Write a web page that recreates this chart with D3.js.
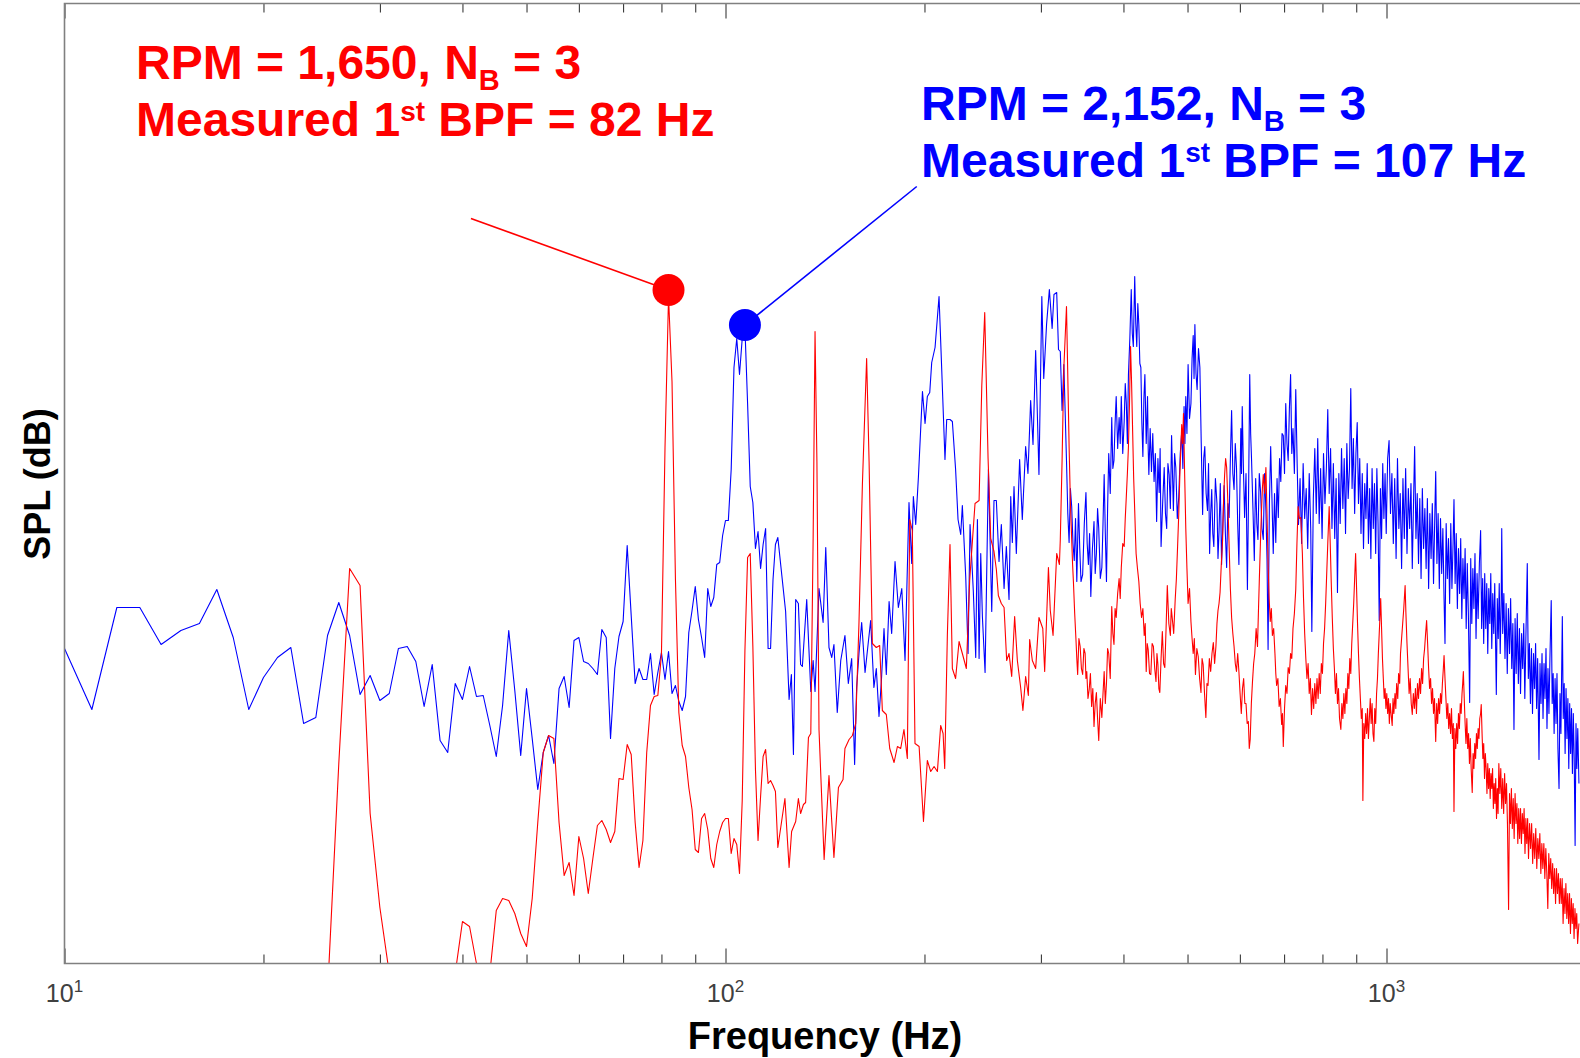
<!DOCTYPE html>
<html>
<head>
<meta charset="utf-8">
<script src="https://cdn.jsdelivr.net/npm/d3@7"></script>
<style>
  body { margin: 0; background: #fff; }
  text { font-family: "Liberation Sans", Arial, Helvetica, sans-serif; }
</style>
</head>
<body>
<script>
// spectra, [frequency Hz, SPL dB] (dB values are relative, no y ticks in the figure)
// blue: RPM 2,152
var blueLow = [[10,31.5],[11,25.4],[12,35.6],[13,35.6],[14,31.9],[15,33.3],[16,34.0],[17,37.4],[18,32.6],[19,25.4],[20,28.6],[21,30.6],[22,31.6],[23,24.0],[24,24.6],[25,32.8],[26,36.1],[27,32.8],[28,26.9],[29,28.8],[30,26.3],[31,27.0],[32,31.5],[33,31.7],[34,30.2],[35,25.7],[36,29.9],[37,22.3],[38,21.1],[39,28.0],[40,26.4],[41,29.7],[42,26.7],
  [43,26.8],[44,23.8],[45,20.7],[46,25.8],[47,33.3],[48,27.3],[49,20.8],[50,27.5],[51,22.5],[52,17.4],[53,21.1],[54,22.8],[55,20.0],[56,27.5],[57,28.7],[58,25.6],[59,32.3],[60,32.6],[61,30.2],[62,30.0],[63,29.5],[64,28.9],[65,33.4],[66,32.6],[67,22.5],[68,29.5],[69,32.7],[70,34.2],[71,41.8],[72,34.8],[73,28.0],[74,29.5],[75,28.4],[76,28.4],[77,31.0],[78,26.9],[79,29.1],[80,31.1],[81,28.4],[82,31.2],[83,27.0],[84,27.8],[85,26.2],[86,25.3],[87,26.7],[88,33.1],[89,35.3],[90,37.7],[91,34.4],[92,32.6],[93,30.6],[94,37.5],[95,35.7],[96,36.6],[97,39.9],[98,40.1],[99,42.8],[100,44.3],[101,44.3],[102,49.4],[103,59.6],[104,62.5],[105,58.9],[106,62.5],[107,63.6],[108,56.0],[109,47.7],[110,46.1],[111,41.5],[112,43.2],[113,39.5],[114,41.9],[115,43.5],[116,31.5],[117,31.5],[118,38.4],[119,41.9],[120,42.6]];
var blueMid = [[123.3,35.2],[124.8,26.4],[125.8,28.9],[126.7,20.9],[127.7,36.4],[128.9,36.0],[129.9,29.9],[130.7,29.7],[132.7,36.4],[134.6,27.2],[135.7,30.3],[136.6,27.2],[138.5,37.5],[140.5,34.1],[141.8,41.6],[143.4,31.6],[144.8,30.6],[145.9,31.9],[147.6,25.1],[149.4,30.3],[151.6,32.8],[153.4,28.0],[155.2,30.5],[156.8,19.9],[157.9,27.6],[159.2,31.0],[160.7,34.1],[162.6,29.1],[165.8,34.3],[167.7,27.6],[169.1,29.5],[170.7,24.7],[172.1,28.2],[173.7,33.5],[175.1,28.9],[176.8,36.2],[178.4,33.0],[180.5,40.2],[182.6,35.6],[184.8,37.5],[186.9,30.3],[189.5,46.1],[191.3,40.0],[192.4,46.7],[194.0,43.9],[195.8,48.6],[198.6,57.2],[200.4,54.0],[202.0,56.7],[203.7,57.1],[205.1,60.1],[207.5,61.6],[210.4,66.7],[212.3,59.7],[214.8,50.4],[216.1,54.4],[218.6,54.4],[220.4,54.2],[222.9,49.4],[224.8,44.4],[226.9,42.9],[228.2,45.8],[230.9,38.7],[232.8,31.0],[234.4,43.9],[237.1,37.2],[239.1,30.6],[240.5,44.4],[241.9,30.5],[243.3,41.0],[244.7,34.7],[247.0,29.1],[249.9,49.4],[252.8,35.2],[254.8,46.3],[256.9,46.3],[259.3,40.2],[261.4,43.9],[263.9,37.5],[266.0,41.7],[268.5,36.4],[270.1,46.7],[271.6,42.1],[273.2,47.7],[275.4,41.0],[278.6,50.4],[281.2,44.4],[284.5,51.7],[286.8,49.0],[289.5,56.3],[291.9,51.9],[294.6,61.3]];
var blueUpper = [[298,48.9],[301,66.7],[303,58.5],[306,63.9],[309,67.4],[312,63.5],[314,66.9],[317,67.1],[319,61.4],[321,61.2],[323,55.3],[325,59.9],
  [328,50.3],[329.5,45.0],[331,42.1],[332.5,47.5],[334,45.7],[335.5,42.0],[337,40.3],[338.5,44.5],[340,38.2],[342,46.0],[343.5,41.5],[345,38.2],[347,38.9],[349,44.0],[351,47.1],[352.5,42.0],[354,39.9],[355.5,43.0],[357,36.7],[359,41.5],[361,44.2],[362.5,39.0],[364,41.0],[365.5,45.5],[367,43.5],[369,38.5],[371,39.6],[372.5,44.0],[374,48.9],[375.5,43.0],[377,38.2],[378.5,45.5],[380,51.0],[382,47.0],[384,54.6],[385.5,49.5],[387,50.3],[388.5,54.0],[390,56.7],[392,51.5],[394,54.6],[395.5,52.0],[397,56.7],[399,51.0],[401,54.2],[402.5,58.0],[404,56.0],[405.5,52.0],[407,58.9],[409,62.5],[411,67.4],[412.5,63.0],[414,61.7],[416,68.7],[417.5,64.0],[419,61.7],[420.5,66.0],[422,63.9],[423.5,60.0],
  [425,59.6],[426.5,54.0],[428,50.7],[429.5,56.5],[431,58.9],[433,52.0],[435,56.7],[436,51.5],[437,48.9],[439,53.5],[441,49.2],[443,53.0],[445,48.2],[447,51.0],[449,44.2],[451,50.5],[453,47.1],[454.5,51.5],[456,41.7],[458.5,46.0],[461,49.6],[463,45.0],[465,43.5],[467,50.0],[469,48.9],[471,45.5],[473,52.8],[474.5,49.0],[476,45.3],[478,51.0],[480,49.6],[482.5,44.5],[485,46.7],[487.5,51.0],[490,53.2],[492,49.5],[494,55.7],[495.5,52.0],[497,56.7],[499,53.0],[501,59.9],[503.5,54.5],[506,56.0],[508,60.5],[510,62.8],[511.5,58.5],[513,63.9],[515,59.0],[517,57.4],[519.5,61.5],[522,59.6],[524.5,52.0],[527,44.9],[529,50.5],[531,51.7],[533.5,47.0],[536,45.3],[538,50.0],[540,41.0],[542,45.0],[544,47.4],[546,43.0],[548,41.7],[551,48.5],[554,46.0],[556,40.5],[558,43.2],[560.5,48.0],[563,39.9],[565.5,44.0],[568,47.8],[570.5,43.0],[573,39.6],[575.5,46.0],[578,44.6],[580.5,50.5],[583,55.3],[585.5,49.0],[588,47.4],[590.5,52.0],[593,49.6],[595.5,44.0],[598,39.9],[600,47.0],[602,53.5],[603.5,49.0],[605,55.7],[607.5,49.5],[610,44.6],[613,49.0],[616,37.4],[618.5,47.0],[621,58.9],[623,53.0],[625,50.3],[628,45.5],[631,40.3],[632.5,45.0],[634,48.5],[636.5,44.0],[639,42.4],[642,49.0],[645,47.1],[648,43.5],[651,42.4],[654,49.0],[657,45.3],[659.5,40.5],[662,31.4],[665,46.0],[668,51.7],[671,46.5],[674,41.0],[677,47.0],[680,42.1],[683,48.5],[686,44.6],[689,50.5],[692,48.2],[695,53.0],[698,52.8],[701,49.0],[704,56.0],[707,52.0],[710,50.3],[713,55.5],[716,58.9],[719,51.0],[722,53.5],[725.5,49.0],[729,57.4],[732.5,50.0],[736,43.9]];
var blueHigh = [[740,48.5],[744,42.0],[748,50.0],[752,44.5],[756,47.5],[760,41.5],[764,49.0],[768,43.5],[771,33.2],[775,46.5],[779,51.5],[783,45.0],[787,52.5],[791,44.0],[795,49.5],[799,42.5],[803,51.0],[807,46.0],[811,49.5],[815,55.4],[819,47.0],[823,51.5],[827,43.5],[831,50.0],[835,42.5],[839,48.5],[843,37.1],[847,49.0],[851,44.0],[855,51.5],[859,45.5],[863,50.5],[867,43.0],[871,52.0],[875,46.5],[879,49.5],[883,57.5],[887,47.5],[891,52.5],[895,45.0],[899,51.0],[903,54.1],[907,46.0],[911,50.5],[915,43.0],[919,49.0],[923,41.5],[927,48.0],[931,44.5],[935,50.0],[939,42.0],[943,47.5],[947,40.5],[951,49.5],[955,43.5],[959,48.0],[963,41.0],[967,49.5],[971,44.0],[975,34.3],[979,47.5],[983,42.5],[987,50.0],[991,44.5],[995,49.0],[999,43.0],
  [1004,50.5],[1009,52.3],[1014,45.0],[1019,49.0],[1024,42.0],[1029,48.5],[1034,40.5],[1039,50.5],[1044,43.5],[1049,47.0],[1054,39.5],[1059,48.5],[1064,42.5],[1069,49.5],[1074,41.0],[1079,47.5],[1084,43.5],[1089,48.0],[1094,39.5],[1099,46.5],[1103,51.7],[1108,42.5],[1113,47.0],[1118,40.0],[1123,46.5],[1128,38.5],[1133,47.5],[1138,41.5],[1143,45.5],[1148,39.5],[1153,46.5],[1158,37.5],[1163,45.0],[1168,40.5],[1173,46.0],[1178,38.0],[1183,44.5],[1187,49.2],[1192,40.0],[1197,45.0],[1202,37.5],[1207,44.5],[1212,39.0],[1217,43.5],[1222,36.5],[1226,32.0],[1231,44.0],[1236,38.5],[1241,42.5],[1246,36.0],[1251,44.0],[1256,37.5],[1261,42.0],[1265,46.4],[1270,38.0],[1275,43.0],[1280,35.5],[1285,41.5],[1290,37.0],[1295,42.5],[1300,34.5],[1305,40.5],[1310,36.5],[1315,41.5],[1320,33.5],[1325,40.0],[1330,35.0],[1336,26.1],[1341,40.5],[1346,34.0],[1351,39.5],[1356,35.5],[1361,41.0],[1366,32.5],[1371,39.0],[1376,34.5],[1382,40.0],[1388,43.3],[1393,33.5],[1398,38.5],[1403,32.0],[1408,39.0],[1413,33.5],[1418,38.0],[1423,31.0],[1428,37.5],[1433,34.0],[1438,39.0],[1443,31.5],[1448,37.0],[1453,33.0],[1458,38.0],[1463,31.0],[1466,26.9],[1471,36.5],[1476,32.5],[1481,38.0],[1486,31.0],[1491,36.0],[1494,43.5],[1499,33.0],
  [1505,37.0],[1511,30.5],[1517,36.0],[1523,29.0],[1529,35.5],[1535,31.0],[1541,36.5],[1547,29.5],[1553,34.0],[1559,23.4],[1565,34.5],[1571,29.0],[1577,35.0],[1583,28.0],[1589,33.5],[1595,27.0],[1601,33.0],[1607,29.5],[1613,34.0],[1619,26.5],[1625,32.5],[1633,40.0],[1639,28.5],[1645,32.0],[1651,26.0],[1657,31.5],[1663,25.0],[1669,31.0],[1675,27.5],[1681,32.0],[1687,25.5],[1693,30.5],[1701,20.4],[1707,30.0],[1713,26.0],[1719,31.0],[1725,24.5],[1731,30.0],[1737,26.5],[1743,31.5],[1749,23.5],[1755,29.5],[1761,25.0],[1767,30.5],[1775,36.3],[1781,26.0],[1787,29.0],[1793,23.0],[1799,28.5],[1805,24.0],[1811,29.0],[1817,21.5],[1824,17.5],[1830,27.0],[1836,23.0],[1845,34.7],[1851,24.5],[1857,28.0],[1863,21.0],[1869,27.5],[1875,22.5],[1881,26.5],[1887,19.5],[1893,26.0],[1899,21.0],[1905,25.5],[1911,19.0],[1917,25.0],[1923,20.5],[1929,11.8],[1935,24.0],[1941,19.5],[1947,23.5],[1955,18.0]];

// red: RPM 1,650 (below ~25 Hz it sits under the axis)
var redLow = [[24,-5],[25,-3],[26,20.0],[27,39.5],[28,37.8],[29,15.0],[30,5.6],[31,-1],[32,-6],[33,-8],[34,-7],[35,-9],[36,-8],[37,-6],[38,-4],[39,-1],[40,4.2],[41,3.7],[42,0],[43,-3],[44,-1],[45,5.3],[46,6.5],[47,6.3],[48,5.0],[49,3.0],[50,1.7],[51,6.5],[52,14.1],[53,21.1],[54,22.8],[55,22.5],[56,14.1],[57,8.8],[58,10.1],[59,6.8],[60,12.7],[61,10.5],[62,7.0],[63,10.5],[64,13.8],[65,14.3],[66,13.4],[67,12.1],[68,13.2],[69,18.5],[70,18.4],[71,21.9],[72,20.9],[73,14.1],[74,9.6],[75,12.3],[76,21.1],[77,25.8],[78,26.7],[79,26.8],[80,30.9],[81,51.6],[82,66.7],[83,58.2],[84,38.4],[85,25.1],[86,21.8],[87,20.7],[88,17.6],[89,15.4],[90,11.4],[91,11.1],[92,14.5],[93,15.0],[94,13.4],[95,10.5],[96,9.6],[97,11.9],[98,13.2],[99,14.1],[100,14.5],[101,14.5],[102,11.0],[103,12.5],[104,11.9],[105,9.0],[106,16.3],[107,31.3],[108,40.6],[109,41.0],[110,31.7],[111,19.4],[112,12.3],[113,16.7],[114,20.7],[115,21.4],[116,18.0],[117,18.3],[118,17.8],[119,17.2],[120,11.6]];
var redMid = [[123.0,16.5],[124.8,9.6],[125.9,13.2],[127.7,14.2],[128.9,16.5],[129.9,15.0],[131.2,15.9],[132.2,16.1],[133.5,22.6],[134.6,23.0],[135.7,42.5],[136.6,63.2],[137.5,50.2],[138.5,23.4],[141.0,10.4],[143.4,18.8],[145.9,10.6],[148.2,17.6],[150.6,18.4],[151.6,21.5],[153.8,22.4],[155.6,22.8],[157.4,24.0],[159.2,34.1],[161.1,47.9],[163.5,60.5],[164.9,50.2],[166.8,32.0],[169.1,31.6],[171.1,31.8],[172.7,25.3],[175.1,24.9],[177.2,21.5],[179.9,20.1],[182.0,21.7],[184.1,21.5],[186.2,23.4],[188.4,20.5],[190.0,44.4],[191.7,43.3],[193.5,22.0],[196.3,21.7],[199.3,14.2],[202.0,20.3],[204.4,19.2],[206.8,19.7],[209.2,19.2],[211.6,23.8],[213.4,23.0],[214.6,19.5],[216.6,32.9],[218.6,41.9],[220.4,29.5],[222.9,28.5],[225.6,32.2],[228.2,31.0],[231.4,29.5],[234.1,38.3],[238.5,46.0],[241.9,46.3],[244.2,57.8],[246.7,65.1],[249.6,50.5],[251.9,42.5],[254.8,41.2],[256.9,39.4],[258.7,36.8],[261.4,36.0],[263.9,35.6],[266.3,30.3],[268.5,31.0],[271.0,28.7],[273.8,34.7],[276.4,30.3],[279.6,27.6],[281.8,25.3],[284.5,28.7],[287.2,26.8],[288.5,32.4],[291.2,30.3],[294.6,29.5]];
var redUpper = [[298,34.6],[302,33.5],[304,29.2],[308,39.6],[310,35.3],[313,32.8],[317,41.0],[320,39.9],[321,42.4],[323,50.3],[325,59.6],[328,65.7],
  [331,51.7],[332.5,46.0],[334,42.4],[335,40.0],[336,38.2],[337.5,35.0],[339,32.4],[340,30.5],[341,28.9],[342.5,32.5],[344,31.7],[345.5,29.5],[347,28.9],[348.5,31.5],[350,31.0],[351,28.5],[352,29.2],[353.5,26.5],[355,27.4],[356.5,29.0],[358,25.7],[359.5,27.5],[361,23.7],[362.5,26.0],[364,27.1],[365.5,24.5],[367,22.3],[369,26.5],[371,24.6],[372.5,27.0],[374,29.2],[375.5,26.0],[377,28.0],[378.5,31.5],[380,31.0],[382,28.5],[384,35.7],[385.5,33.0],[387,31.9],[388.5,35.5],[390,34.6],[392,37.0],[394,38.5],[395.5,36.5],[397,39.6],[399,42.0],[401,41.7],[402.5,44.5],[404,46.7],[405.5,49.0],[407,51.7],[408.5,56.0],[410,61.7],[411.5,58.0],[413,53.2],[414.5,48.5],[416,45.3],[417,43.0],[418,41.0],[420,39.5],[422,38.2],[424,36.0],[426,34.6],[428,35.5],[430,32.8],[431.5,34.0],[433,29.2],[434.5,32.0],[436,31.4],[438,29.0],[440,28.9],[442,32.0],[444,31.7],[446,29.5],[448,28.2],[449.5,31.0],[451,29.9],[452.5,27.5],[454,27.1],[456,30.5],[458,33.2],[460,30.0],[462,29.6],[464,33.5],[466,37.8],[468.5,34.0],[471,32.8],[472.5,35.5],[474,34.6],[476.5,33.0],[479,36.4],[481,38.5],[483,41.7],[485,45.0],[487,49.2],[488.5,51.5],[490,53.9],[491.5,52.0],[493,55.0],[495,49.0],[497,43.5],[499,39.5],[501,36.0],[503.5,37.5],[506,34.2],[508,32.5],[510,31.0],[512,32.5],[514,28.9],[516.5,31.5],[519,30.7],[521.5,28.5],[524,27.1],[526,30.5],[528,29.9],[530.5,27.0],[533,24.6],[535,28.0],[537,27.8],[539.5,30.5],[542,29.2],[544.5,31.0],[547,32.1],[549.5,30.0],[552,31.7],[554,34.0],[556,35.3],[558,36.0],[560,37.1],[562.5,40.0],[565,42.4],[567,46.5],[569,48.9],[571,50.5],[573,49.6],[575.5,46.0],[578,41.7],[580.5,37.5],[583,34.6],[585.5,33.0],[588,31.7],[590.5,30.0],[593,29.2],[595.5,31.0],[598,29.2],[600.5,27.0],[603,25.0],[605.5,27.5],[608,28.5],[610.5,26.0],[613,26.0],[615.5,24.0],[618,24.2],[620,21.5],[622,22.4],[624.5,26.0],[627,28.2],[629.5,30.0],[632,31.0],[635,33.5],[638,31.7],[640,35.0],[642,38.2],[644.5,42.0],[647,45.3],[649,47.5],[651,48.9],[654,47.0],[657,49.6],[659.5,45.0],[662,39.9],[664.5,36.5],[667,34.2],[669.5,35.5],[672,32.8],[675,33.5],[678,31.0],[680,29.0],[682,27.8],[685,28.5],[688,25.7],[691,26.5],[694,23.9],[696,25.0],[698,21.7],[701,25.5],[704,27.8],[707,27.0],[710,29.6],[713,29.0],[716,31.0],[719,30.5],[722,33.5],[725.5,35.0],[729,37.4],[732,42.0],[735,45.7],[738.5,44.5],[742,44.6]];
var redHigh = [[746,41.0],[749,36.5],[752,33.0],[755,30.5],[758,28.5],[761,30.0],[764,27.0],[767,28.5],[770,24.9],[773,27.5],[776,25.5],[779,28.0],[782,26.0],[785,28.5],[788,26.5],[791,29.0],[794,27.0],[797,30.0],[800,29.0],[803,32.0],[806,33.5],[809,36.0],[812,39.0],[815,42.0],[819,45.7],[822,42.0],[825,38.0],[828,34.5],[831,31.5],[834,29.5],[837,27.0],[840,29.0],[843,26.0],[846,27.5],[849,24.5],[853,23.4],[856,26.0],[859,24.5],[862,27.0],[865,25.0],[868,27.5],[871,26.0],[874,29.0],[877,27.5],[880,30.5],[883,29.0],[886,32.0],[889,34.0],[892,36.0],[895,38.5],[898,41.0],[901,37.5],[904,34.0],[907,31.0],[910,28.5],[913,26.5],[916,24.5],[919,25.5],[921,16.3],[924,24.0],[927,22.5],[930,25.0],[933,23.0],[936,25.5],[939,22.5],[942,24.5],[945,26.5],[948,24.0],[951,26.0],[954,23.0],[957,22.2],[960,25.5],[963,24.0],[966,27.0],[969,28.5],[972,31.0],[975,33.0],[978,35.0],[980,36.5],[983,33.5],[986,30.5],[989,28.5],[992,26.5],[995,27.5],[998,25.5],
  [1001,27.0],[1004,25.0],[1007,26.5],[1010,24.0],[1013,26.0],[1016,25.0],[1020,23.8],[1023,26.5],[1026,25.0],[1030,27.0],[1033,25.5],[1036,28.0],[1040,26.5],[1043,29.0],[1047,28.0],[1050,31.0],[1054,32.5],[1058,34.0],[1062,35.5],[1067,37.8],[1070,35.0],[1074,32.0],[1078,29.5],[1082,27.0],[1086,28.5],[1090,26.0],[1094,24.9],[1098,27.0],[1102,25.5],[1106,27.5],[1110,25.0],[1114,28.0],[1118,26.5],[1122,28.5],[1126,27.0],[1130,29.5],[1134,28.0],[1138,30.5],[1142,31.5],[1146,33.0],[1150,34.3],[1154,32.0],[1158,29.5],[1162,27.5],[1166,28.5],[1170,26.0],[1174,27.5],[1178,25.0],[1182,26.5],[1187,22.2],[1191,26.0],[1195,24.0],[1199,26.5],[1203,25.0],[1207,27.0],[1211,26.0],[1215,28.0],[1219,29.5],[1222,30.8],[1226,28.5],[1230,26.5],[1234,24.5],[1238,26.0],[1242,23.5],[1246,25.0],[1250,23.0],[1254,25.5],[1258,22.5],[1262,24.0],[1265,15.2],[1269,23.5],[1273,21.5],[1277,24.0],[1281,22.0],[1285,25.0],[1289,23.5],[1293,26.0],[1297,25.0],[1301,27.0],[1304,28.0],[1307,29.2],[1311,26.5],[1315,24.0],[1319,22.0],[1323,24.5],[1327,21.5],[1331,23.0],[1335,20.0],[1339,22.5],[1343,19.5],[1348,17.1],[1352,21.0],[1356,19.5],[1360,22.0],[1364,20.5],[1368,23.0],[1372,21.5],[1376,23.5],[1380,22.5],[1384,24.5],[1388,25.0],[1391,25.9],[1395,23.0],[1399,20.5],
  [1403,22.0],[1407,18.5],[1411,21.0],[1415,19.5],[1419,17.0],[1423,20.0],[1427,17.5],[1431,19.5],[1435,16.5],[1439,19.0],[1443,17.5],[1447,19.5],[1451,15.5],[1455,18.0],[1459,16.0],[1463,18.5],[1467,14.5],[1471,17.5],[1475,15.0],[1479,20.0],[1484,17.0],[1489,19.5],[1494,15.5],[1499,18.5],[1504,15.0],[1509,19.0],[1514,16.0],[1519,18.0],[1524,14.0],[1530,5.4],[1535,17.0],[1540,14.0],[1545,17.5],[1550,13.5],[1555,16.5],[1560,12.5],[1565,17.0],[1570,14.0],[1575,16.0],[1580,12.0],[1585,15.5],[1590,12.5],[1595,15.5],[1600,12.0],[1605,15.0],[1610,13.0],[1615,15.5],[1620,11.0],[1625,14.5],[1630,12.0],[1635,14.5],[1640,10.5],[1646,14.0],[1652,11.5],[1658,14.0],[1664,10.0],[1670,13.0],[1676,10.5],[1682,13.5],[1688,9.5],[1694,12.5],[1700,10.5],[1706,13.0],[1712,9.0],[1718,12.0],[1724,9.5],[1730,12.0],[1736,8.5],[1742,11.5],[1748,9.0],[1754,5.5],[1760,11.0],[1766,8.5],[1772,10.5],[1778,7.5],[1784,10.0],[1790,7.0],[1796,9.5],[1802,6.0],[1808,9.5],[1814,7.0],[1820,9.0],[1826,6.0],[1832,8.5],[1838,6.0],[1844,8.5],[1850,4.0],[1856,7.5],[1862,5.0],[1868,8.0],[1874,4.5],[1880,7.0],[1886,4.0],[1892,7.0],[1898,3.0],[1904,6.5],[1910,4.0],[1916,6.0],[1922,2.5],[1928,5.5],[1934,3.5],[1940,5.0],[1946,2.0],[1955,4.0]];

// measured 1st BPF peaks and where their leader lines start [Hz, dB]
var redPeak = [82, 67.35], redLeader = [41.2, 74.5];
var bluePeak = [107, 63.85], blueLeader = [194.7, 77.7];
var majorTicks = [10, 100, 1000];
var tickExponents = ["1", "2", "3"];

function draw() {
    var W = 1580, H = 1058;
    var left = 64.5, top = 3.5, bottom = 963.5;
    var svg = d3.select("body").append("svg").attr("width", W).attr("height", H);

    var x = d3.scaleLog().domain([10, 2000]).range([left, left + 661 * Math.log10(200)]);
    var y = d3.scaleLinear().domain([0, 96]).range([bottom, top]);
    var right = x.range()[1];

    svg.append("clipPath").attr("id", "plot")
        .append("rect").attr("x", left).attr("y", top)
        .attr("width", right - left).attr("height", bottom - top);

    var line = d3.line().x(function(d) { return x(d[0]); }).y(function(d) { return y(d[1]); });
    var blue = blueLow.concat(blueMid, blueUpper, blueHigh);
    var red = redLow.concat(redMid, redUpper, redHigh);

    var lines = svg.append("g").attr("clip-path", "url(#plot)");
    lines.append("path").attr("d", line(blue)).attr("fill", "none")
        .attr("stroke", "#0000ff").attr("stroke-width", 1.1).attr("stroke-linejoin", "round");
    lines.append("path").attr("d", line(red)).attr("fill", "none")
        .attr("stroke", "#ff0000").attr("stroke-width", 1.1).attr("stroke-linejoin", "round");

    // ticks, inward on bottom and top
    var minorTicks = x.ticks().filter(function(t) { return majorTicks.indexOf(t) < 0; });
    function ticks(axis, ypos, values, size) {
        svg.append("g").attr("transform", "translate(0," + ypos + ")")
            .call(axis(x).tickValues(values).tickSize(size).tickFormat(""))
            .call(function(g) { g.select(".domain").remove(); })
            .selectAll("line").attr("stroke", "#262626").attr("stroke-width", 1);
    }
    ticks(d3.axisBottom, bottom, majorTicks, -15);
    ticks(d3.axisBottom, bottom, minorTicks, -9);
    ticks(d3.axisTop, top, majorTicks, -15);
    ticks(d3.axisTop, top, minorTicks, -9);

    // box (right side is cut off in the figure)
    svg.append("path")
        .attr("d", "M" + right + "," + top + "H" + left + "V" + bottom + "H" + right)
        .attr("fill", "none").attr("stroke", "#808080").attr("stroke-width", 1.6);

    // tick labels 10^n
    majorTicks.forEach(function(t, i) {
        var lbl = svg.append("text").attr("x", x(t)).attr("y", 1002)
            .attr("text-anchor", "middle").attr("fill", "#404040").attr("font-size", 25);
        lbl.append("tspan").text("10");
        lbl.append("tspan").attr("dy", -10).attr("font-size", 17).text(tickExponents[i]);
    });

    svg.append("text").attr("x", 825).attr("y", 1049).attr("text-anchor", "middle")
        .attr("font-size", 38).attr("font-weight", "bold").attr("fill", "#000")
        .text("Frequency (Hz)");
    svg.append("text").attr("transform", "translate(50,484) rotate(-90)")
        .attr("text-anchor", "middle").attr("font-size", 36).attr("font-weight", "bold")
        .attr("fill", "#000").text("SPL (dB)");

    // annotations
    function annotate(peak, from, color, tx, ty, rpm, bpf) {
        svg.append("line").attr("x1", x(from[0])).attr("y1", y(from[1]))
            .attr("x2", x(peak[0])).attr("y2", y(peak[1]))
            .attr("stroke", color).attr("stroke-width", 1.6);
        svg.append("circle").attr("cx", x(peak[0])).attr("cy", y(peak[1])).attr("r", 16)
            .attr("fill", color);
        var t1 = svg.append("text").attr("x", tx).attr("y", ty).attr("fill", color)
            .attr("font-size", 48).attr("font-weight", "bold");
        t1.append("tspan").text("RPM = " + rpm + ", N");
        t1.append("tspan").attr("dy", 11).attr("font-size", 29).text("B");
        t1.append("tspan").attr("dy", -11).text(" = 3");
        var t2 = svg.append("text").attr("x", tx).attr("y", ty + 57).attr("fill", color)
            .attr("font-size", 48).attr("font-weight", "bold");
        t2.append("tspan").text("Measured 1");
        t2.append("tspan").attr("dy", -15).attr("font-size", 28).text("st");
        t2.append("tspan").attr("dy", 15).text(" BPF = " + bpf + " Hz");
    }
    annotate(redPeak, redLeader, "#ff0000", 136, 79, "1,650", 82);
    annotate(bluePeak, blueLeader, "#0000ff", 921, 120, "2,152", 107);
}
window.onload = draw;
</script>
</body>
</html>
